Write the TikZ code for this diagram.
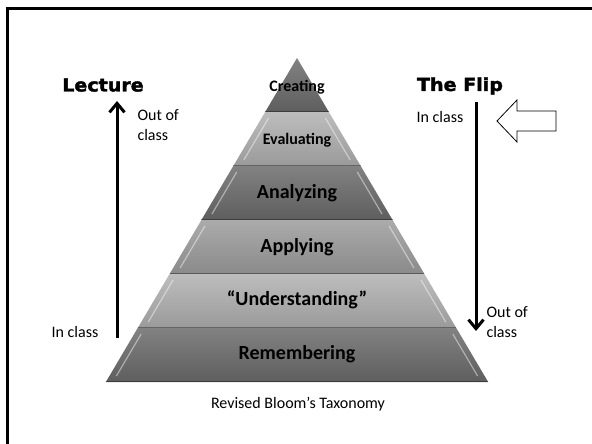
\documentclass[tikz,border=0pt]{standalone}
\usepackage{fontspec}
\setmainfont{Carlito}
\newfontfamily\headfont[FakeStretch=1.06,FakeBold=2]{DejaVu Sans Bold}
\usetikzlibrary{arrows.meta}

\definecolor{darktop}{HTML}{828282}
\definecolor{darkbot}{HTML}{5E5E5E}
\definecolor{lighttop}{HTML}{BDBDBD}
\definecolor{lightbot}{HTML}{9A9A9A}
\definecolor{midtop}{HTML}{ABABAB}
\definecolor{midbot}{HTML}{8A8A8A}

\tikzset{
  bandlabel/.style={font=\bfseries\fontsize{20}{24}\selectfont},
  toplabel/.style={font=\bfseries\fontsize{16}{19}\selectfont},
  smalllabel/.style={font=\fontsize{16}{20}\selectfont, align=left},
  headlabel/.style={font=\headfont\fontsize{18}{22}\selectfont},
  flow/.style={line width=3pt, -{Straight Barb[length=9pt,width=15pt,line width=3pt]}},
  hollow/.style={draw=black, line width=0.8pt, fill=white}
}

\begin{document}
\begin{tikzpicture}[x=1pt,y=-1pt]
    \useasboundingbox (0,0) rectangle (592,444);

    %FRAME
    \draw[line width=3pt] (7.5,444) -- (7.5,8.5) -- (592,8.5);

    %PYRAMID
    \foreach \i/\ct/\cb in {0/darktop/darkbot, 1/lighttop/lightbot, 2/darktop/darkbot,
                            3/midtop/midbot, 4/lighttop/lightbot, 5/darktop/darkbot} {
        \pgfmathsetmacro{\yt}{58+54*\i}
        \pgfmathsetmacro{\yb}{58+54*(\i+1)}
        \pgfmathsetmacro{\wt}{(\yt-58)*0.59}
        \pgfmathsetmacro{\wb}{(\yb-58)*0.59}
        \pgfmathsetmacro{\hlt}{(\yt-52)*0.59-7}
        \pgfmathsetmacro{\hlb}{(\yb-64)*0.59-7}
        \shade[top color=\ct, bottom color=\cb]
            (297-\wt,\yt) -- (297+\wt,\yt) -- (297+\wb,\yb) -- (297-\wb,\yb) -- cycle;
        \ifnum\i>0
        \draw[white, opacity=0.45, line width=1.2pt]
            (297-\hlt,\yt+6) -- (297-\hlb,\yb-6);
        \draw[white, opacity=0.45, line width=1.2pt]
            (297+\hlt,\yt+6) -- (297+\hlb,\yb-6);
        \fi
        \draw[black, opacity=0.35, line width=1pt]
            (297-\wb,\yb-0.5) -- (297+\wb,\yb-0.5);
    }

    \node[toplabel] (creating) at (297,87) {Creating};
    \node[toplabel] (evaluating) at (297,140) {Evaluating};
    \node[bandlabel] (analyzing) at (297,193) {Analyzing};
    \node[bandlabel] (applying) at (297,247) {Applying};
    \node[bandlabel] (understanding) at (297,300) {“Understanding”};
    \node[bandlabel] (remembering) at (297,354) {Remembering};

    \node[smalllabel] (caption) at (298,404) {Revised Bloom’s Taxonomy};

    %LECTURE
    \node[headlabel] (lecture) at (103,85) {Lecture};
    \coordinate (lecbot) at (117,338);
    \coordinate (lectop) at (117,101);
    \draw[flow] (lecbot) -- (lectop);
    \node[smalllabel, anchor=west] (lecout) at (134,125) {Out of\\class};
    \node[smalllabel] (lecin) at (75,332) {In class};

    %THE FLIP
    \node[headlabel] (flip) at (460,86) {The Flip};
    \coordinate (fliptop) at (476,102);
    \coordinate (flipbot) at (476,331);
    \draw[flow] (fliptop) -- (flipbot);
    \node[smalllabel] (flipin) at (440,117) {In class};
    \node[smalllabel, anchor=west] (flipout) at (483,322) {Out of\\class};

    %POINTER
    \draw[hollow] (497,121) -- (517,100) -- (517,111) -- (556,111)
        -- (556,131) -- (517,131) -- (517,142) -- cycle;
\end{tikzpicture}
\end{document}
